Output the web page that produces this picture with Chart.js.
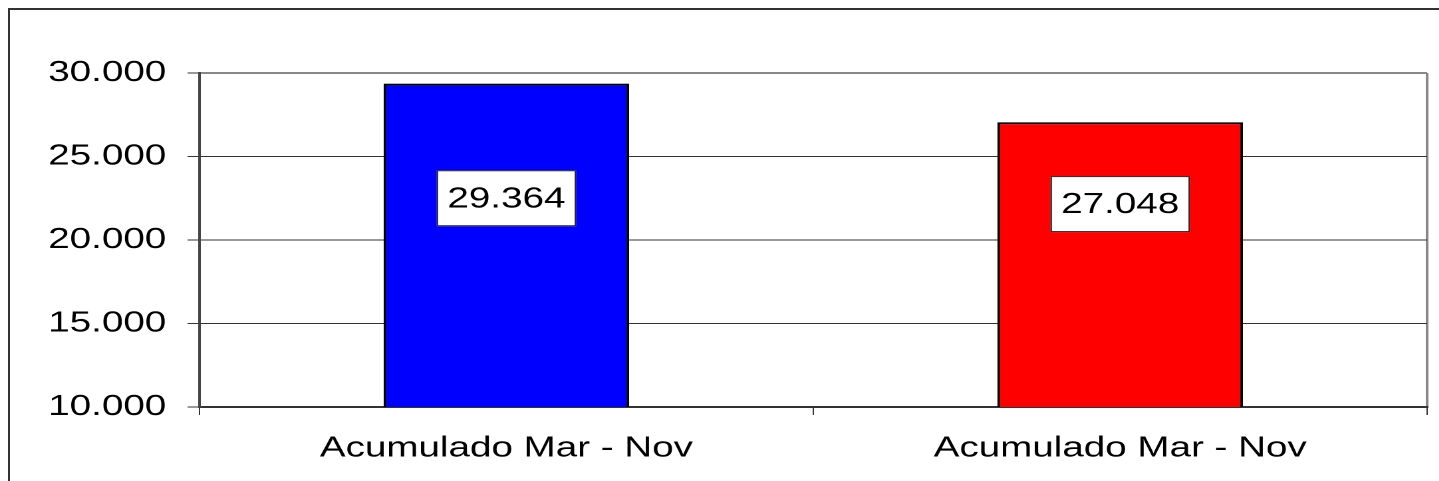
<!DOCTYPE html>
<html>
<head>
<meta charset="utf-8">
<script src="https://cdn.jsdelivr.net/npm/chart.js@4.4.1/dist/chart.umd.min.js"></script>
<style>
html, body { margin: 0; padding: 0; background: #fff; overflow: hidden; }
#frame { position: absolute; left: 8px; top: 8px; width: 1500px; height: 600px; border-left: 2px solid #333; border-top: 2px solid #333; }
/* the original chart is stretched sideways, so draw narrow and scale x */
#wrap { position: absolute; left: 0; top: 0; width: 1082px; height: 481px; transform: scaleX(1.33); transform-origin: 0 0; }
</style>
</head>
<body>
<div id="frame"></div>
<div id="wrap"><canvas id="chart"></canvas></div>
<script>
const categories = ['Acumulado Mar - Nov', 'Acumulado Mar - Nov'];
const values = [29364, 27048];
const barColors = ['#0000ff', '#ff0000'];
const yTicks = [10000, 15000, 20000, 25000, 30000];

const FONT = '"Liberation Sans", Arial, sans-serif';

function fmt(v) {
    return String(v).replace(/\B(?=(\d{3})+(?!\d))/g, '.');
}

// white boxes with the value, like the excel data labels
const boxLabels = {
    id: 'boxLabels',
    afterDatasetsDraw(chart, args, opts) {
        const ctx = chart.ctx;
        const meta = chart.getDatasetMeta(0);
        const yScale = chart.scales.y;
        ctx.save();
        ctx.font = '29px ' + FONT;
        ctx.textAlign = 'center';
        ctx.textBaseline = 'middle';
        meta.data.forEach(function (bar, i) {
            const text = fmt(values[i]);
            const w = ctx.measureText(text).width + 16;
            const h = 56;
            const cy = yScale.getPixelForValue(opts.at[i]);
            ctx.fillStyle = '#fff';
            ctx.fillRect(bar.x - w / 2, cy - h / 2, w, h);
            ctx.strokeStyle = '#222';
            ctx.lineWidth = 1;
            ctx.strokeRect(bar.x - w / 2 + 0.5, cy - h / 2 + 0.5, w - 1, h - 1);
            ctx.fillStyle = '#000';
            ctx.fillText(text, bar.x, cy + 1);
        });
        ctx.restore();
    }
};

const ctx = document.getElementById('chart').getContext('2d');
const chart = new Chart(ctx, {
    type: 'bar',
    data: {
        labels: categories,
        datasets: [{
            data: values,
            backgroundColor: barColors,
            borderColor: '#000',
            borderWidth: 2,
            borderSkipped: false,
            barPercentage: 0.4,
            categoryPercentage: 1
        }]
    },
    options: {
        responsive: true,
        maintainAspectRatio: false,
        animation: false,
        devicePixelRatio: 2,
        layout: { padding: { left: 0, top: 73, right: 9, bottom: 0 } },
        plugins: {
            legend: { display: false },
            tooltip: { enabled: false },
            boxLabels: { at: [22500, 22150] }
        },
        scales: {
            x: {
                afterFit: function (scale) { scale.height = 74; },
                grid: {
                    offset: true,
                    drawOnChartArea: true,
                    color: function (c) { return c.type === 'scale' ? '#888' : 'rgba(0,0,0,0)'; },
                    lineWidth: 2,
                    tickColor: '#333',
                    tickWidth: 1,
                    tickLength: 8
                },
                border: { color: '#333', width: 2 },
                ticks: {
                    color: '#000',
                    font: { family: FONT, size: 29 },
                    padding: 16,
                    maxRotation: 0
                }
            },
            y: {
                min: 10000,
                max: 30000,
                afterFit: function (scale) { scale.width = 150; },
                afterBuildTicks: function (scale) {
                    scale.ticks = yTicks.map(function (v) { return { value: v }; });
                },
                grid: {
                    color: function (c) { return c.tick && c.tick.value === 30000 ? '#888' : '#333'; },
                    lineWidth: function (c) { return c.tick && c.tick.value === 30000 ? 2 : 1; },
                    tickColor: '#333',
                    tickWidth: 1,
                    tickLength: 9
                },
                border: { color: '#444', width: 2 },
                ticks: {
                    color: '#000',
                    font: { family: FONT, size: 29 },
                    padding: 16,
                    callback: function (v) { return fmt(v); }
                }
            }
        }
    },
    plugins: [boxLabels]
});
</script>
</body>
</html>
